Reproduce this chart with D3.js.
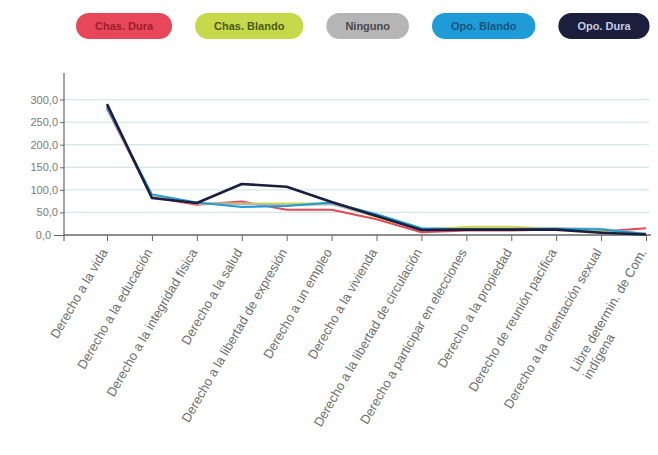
<!DOCTYPE html>
<html>
<head>
<meta charset="utf-8">
<script src="https://cdn.jsdelivr.net/npm/d3@7"></script>
<style>
  html, body { margin: 0; padding: 0; background: #fff; }
  svg { display: block; }
  text { font-family: "Liberation Sans", Arial, sans-serif; }
</style>
</head>
<body>
<svg id="chart" width="658" height="455"></svg>
<script>
// ---- data ----
const categories = [
  "Derecho a la vida",
  "Derecho a la educación",
  "Derecho a la integridad física",
  "Derecho a la salud",
  "Derecho a la libertad de expresión",
  "Derecho a un empleo",
  "Derecho a la vivienda",
  "Derecho a la libertad de circulación",
  "Derecho a participar en elecciones",
  "Derecho a la propiedad",
  "Derecho de reunión pacífica",
  "Derecho a la orientación sexual",
  "Libre determin. de Com.\nindígena"
];
const seriesNames = ["Chas. Dura", "Chas. Blando", "Ninguno", "Opo. Blando", "Opo. Dura"];
const chasDura    = [280, 84, 67, 74, 56, 56, 35, 6, 10, 10, 12, 8, 15];
const chasBlando  = [285, 85, 70, 70, 70, 70, 40, 12, 18, 18, 14, 10, 3];
const ninguno     = [284, 86, 70, 68, 66, 68, 42, 12, 14, 14, 15, 14, 3];
const opoBlando   = [283, 90, 72, 62, 64, 72, 46, 15, 13, 13, 14, 12, 2];
const opoDura     = [290, 82, 71, 113, 107, 73, 42, 11, 12, 12, 12, 5, 1];
const yTicks = [0, 50, 100, 150, 200, 250, 300];
const yMax = 350;

// ---- style ----
const colors     = ["#e8475a", "#c6d94a", "#b5b5b5", "#1f9bd7", "#1b1e3d"];
const textColors = ["#9a1e2c", "#4a5a10", "#4a4a4a", "#17557f", "#c9cde0"];
const widths     = [2, 2, 2, 2, 2.6];

const svg = d3.select("#chart");
const x0 = 64, xEnd = 651, yTop = 75, yBase = 235;

const x = d3.scalePoint().domain(categories).range([107, 646]);
const y = d3.scaleLinear().domain([0, yMax]).range([yBase, yTop + 2]);

const locale = d3.formatLocale({decimal: ",", thousands: ".", grouping: [3], currency: ["", "€"]});
const fmt = locale.format(".1f");

// gridlines
svg.append("g").selectAll("line")
  .data(yTicks.filter(d => d > 0))
  .join("line")
  .attr("x1", x0).attr("x2", xEnd - 2)
  .attr("y1", d => y(d)).attr("y2", d => y(d))
  .attr("stroke", "#d3e7e6").attr("stroke-width", 1.2);

// y axis
const yAxis = d3.axisLeft(y).tickValues(yTicks).tickSize(4).tickFormat(fmt);
const gy = svg.append("g").attr("transform", `translate(${x0},0)`).call(yAxis);
gy.select(".domain").remove();
gy.selectAll(".tick line").attr("stroke", "#666");
gy.selectAll(".tick text").attr("fill", "#7a7a7a").style("font-size", "11px").attr("x", -6);
gy.selectAll(".tick").filter(d => d === 0).select("line").attr("x2", -10);
gy.selectAll(".tick").filter(d => d === 0).select("text").attr("x", -13);
svg.append("line").attr("x1", x0).attr("x2", x0).attr("y1", yTop - 2).attr("y2", yBase + 6)
  .attr("stroke", "#666").attr("stroke-width", 1.2);

// x axis
svg.append("line").attr("x1", x0).attr("x2", xEnd).attr("y1", yBase).attr("y2", yBase)
  .attr("stroke", "#666").attr("stroke-width", 1.4);
const xAxis = d3.axisBottom(x).tickSize(6).tickFormat("");
const gx = svg.append("g").attr("transform", `translate(0,${yBase})`).call(xAxis);
gx.select(".domain").remove();
gx.selectAll(".tick line").attr("stroke", "#666");

// category labels
const lab = svg.append("g").selectAll("g")
  .data(categories)
  .join("g")
  .attr("transform", d => `translate(${x(d) + 1},${yBase + 17}) rotate(-60)`);
lab.each(function(d) {
  const g = d3.select(this);
  const lines = d.split("\n");
  const t1 = g.append("text").attr("text-anchor", "end").attr("fill", "#6e6e6e")
    .style("font-size", "13px").text(lines[0]);
  if (lines.length > 1) {
    const L = t1.node().getComputedTextLength();
    g.append("text").attr("text-anchor", "start").attr("x", -L).attr("y", 15)
      .attr("fill", "#6e6e6e").style("font-size", "13px").text(lines[1]);
  }
});

// lines
const allSeries = [chasDura, chasBlando, ninguno, opoBlando, opoDura];
const line = d3.line().x((d, i) => x(categories[i])).y(d => y(d));
svg.append("g").selectAll("path")
  .data(allSeries)
  .join("path")
  .attr("d", d => line(d))
  .attr("fill", "none")
  .attr("stroke", (d, i) => colors[i])
  .attr("stroke-width", (d, i) => widths[i])
  .attr("stroke-linejoin", "round");

// legend
const leg = svg.append("g");
let lx = 76;
seriesNames.forEach((name, i) => {
  const g = leg.append("g");
  const t = g.append("text").attr("fill", textColors[i]).style("font-size", "11px")
    .style("font-weight", "bold").attr("text-anchor", "middle").attr("y", 30).text(name);
  const w = t.node().getComputedTextLength() + 38;
  g.insert("rect", "text").attr("x", lx).attr("y", 13).attr("width", w).attr("height", 26)
    .attr("rx", 13).attr("fill", colors[i]);
  t.attr("x", lx + w / 2);
  lx += w + 23;
});
</script>
</body>
</html>
